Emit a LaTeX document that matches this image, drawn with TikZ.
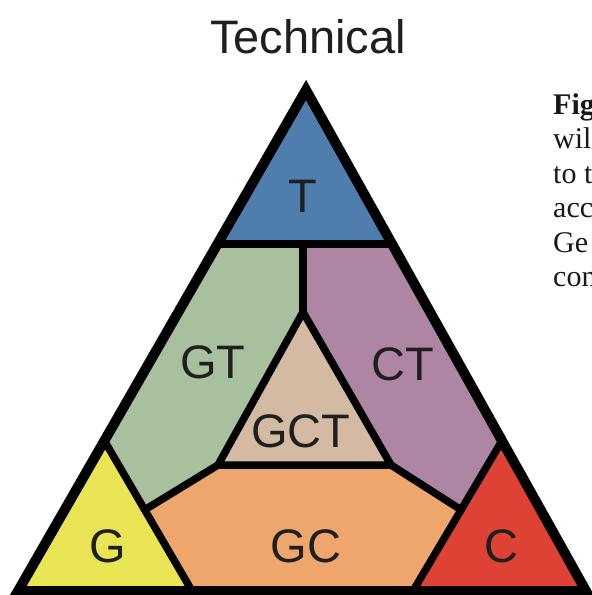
\documentclass[tikz,border=0pt]{standalone}
\usepackage{fontspec}
\setmainfont{Liberation Serif}
\newfontfamily\labelfont{Liberation Sans}
\usetikzlibrary{calc}
\definecolor{tblue}{HTML}{4F7EAE}
\definecolor{gtgreen}{HTML}{A8C09E}
\definecolor{ctmauve}{HTML}{AE86A4}
\definecolor{gcttan}{HTML}{D4BAA2}
\definecolor{gyellow}{HTML}{E9E454}
\definecolor{gcorange}{HTML}{EEA66C}
\definecolor{cred}{HTML}{DE4234}
\tikzstyle{frame} = [line width=10pt, line join=miter, draw=black]
\tikzstyle{border} = [line width=7.5pt, line join=round, line cap=round, draw=black]
\tikzstyle{lab} = [font=\labelfont\fontsize{47}{47}\selectfont, text=black!88, anchor=base, inner sep=0pt]
\tikzstyle{captext} = [font=\fontsize{30}{30}\selectfont, text=black!90, anchor=base west, inner sep=0pt]

\begin{document}
\begin{tikzpicture}[x=1pt, y={(0pt,-1pt)}]
\clip (0,0) rectangle (592,595);
\fill [white] (0,0) rectangle (592,595);

\coordinate (A) at (306,90);
\coordinate (B) at (18,591);
\coordinate (C) at (586,591);
\coordinate (tl) at ($(A)!0.307!(B)$);
\coordinate (tr) at ($(A)!0.307!(C)$);
\coordinate (tm) at (303,244);
\coordinate (ga) at ($(A)!0.70!(B)$);
\coordinate (ca) at ($(A)!0.70!(C)$);
\coordinate (gb) at (192,591);
\coordinate (cb) at (413,591);
\coordinate (p1) at ($(ga)!0.46!(gb)$);
\coordinate (p2) at ($(ca)!0.46!(cb)$);
\coordinate (ka) at (303,312);
\coordinate (kl) at (218,465);
\coordinate (kr) at (391,465);

\fill [tblue] (A) -- (tl) -- (tr) -- cycle;
\fill [gtgreen] (tl) -- (ga) -- (p1) -- (kl) -- (ka) -- (tm) -- cycle;
\fill [ctmauve] (tr) -- (tm) -- (ka) -- (kr) -- (p2) -- (ca) -- cycle;
\fill [gcttan] (ka) -- (kl) -- (kr) -- cycle;
\fill [gyellow] (ga) -- (B) -- (gb) -- cycle;
\fill [gcorange] (p1) -- (gb) -- (cb) -- (p2) -- (kr) -- (kl) -- cycle;
\fill [cred] (ca) -- (cb) -- (C) -- cycle;

\draw [border] (tl) -- (tr);
\draw [border] (tm) -- (ka);
\draw [border] (ka) -- (kl) -- (kr) -- cycle;
\draw [border] (ga) -- (gb);
\draw [border] (ca) -- (cb);
\draw [border] (p1) -- (kl);
\draw [border] (kr) -- (p2);
\draw [frame] (A) -- (B) -- (C) -- cycle;

\node (tech) [lab] at (308,53) {Technical};
\node (t) [lab] at (303,212) {T};
\node (gt) [lab] at (213,378) {GT};
\node (ct) [lab] at (403,380) {CT};
\node (gct) [lab] at (301,447) {GCT};
\node (g) [lab] at (108,562) {G};
\node (gc) [lab] at (306,562) {GC};
\node (c) [lab] at (501,562) {C};

\node (l1) [captext] at (553,114) {\bfseries Fig};
\node (l2) [captext] at (553,148.5) {wil};
\node (l3) [captext] at (553,183) {to t};
\node (l4) [captext] at (553,217.5) {acc};
\node (l5) [captext] at (553,252) {Ge};
\node (l6) [captext] at (553,286.5) {con};
\end{tikzpicture}
\end{document}
